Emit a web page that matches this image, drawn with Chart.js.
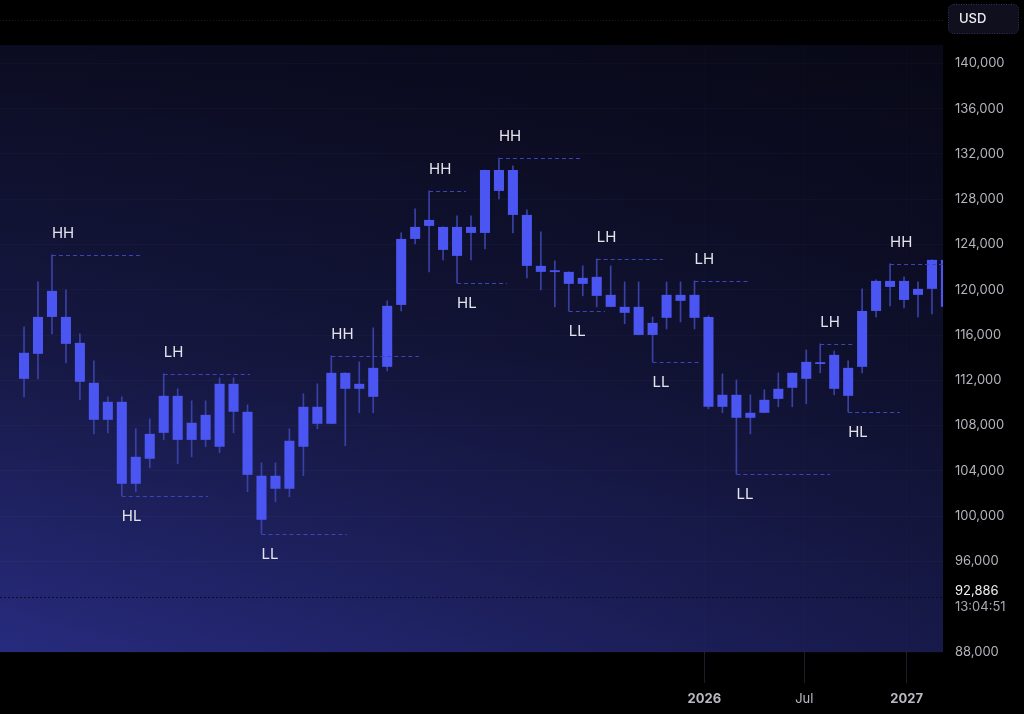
<!DOCTYPE html>
<html>
<head>
<meta charset="utf-8">
<title>Candles</title>
<script src="https://cdn.jsdelivr.net/npm/chart.js@4.4.1/dist/chart.umd.min.js"></script>
<style>
  body { margin: 0; background: #000; }
  #wrap { width: 1024px; height: 714px; position: relative; }
</style>
</head>
<body>
<div id="wrap"><canvas id="grafico"></canvas></div>
<script>
// candles (one per bar, all same colour)
const opens  = [112130,114340,117600,117600,115310,111780,108510,110100,102860,105070,
                107360,110630,106740,106740,106130,111690,109220,103570,102420,102420,
                106130,109660,108160,112660,111250,110540,113190,118660,124490,125640,
                125550,122990,125020,125020,130580,130580,126610,122110,121720,121580,
                120520,121140,119550,118490,118490,116010,117520,119550,117520,117600,
                109660,110720,108690,109130,110360,111340,112130,113600,114250,110630,
                113190,118130,120780,119100,120080,120080,122640];
const closes = [114430,117600,119900,115220,111870,108510,110100,102860,105240,107270,
                110630,106740,108250,108950,111690,109220,103650,99680,103570,106660,
                109660,108160,112660,111250,111690,113100,118580,124490,125550,126170,
                123520,125550,125550,130580,128730,126610,122110,121580,121560,120520,
                121050,119460,118490,117960,116010,117070,119550,119020,119550,109660,
                110720,108690,109130,110280,111250,112660,113630,113440,111250,113100,
                118130,120780,120250,120780,119550,122640,118490];
const highs  = [116720,120690,123080,119990,116100,113720,110540,110540,107720,108600,
                112570,111250,110190,110190,112220,112220,109830,104710,104710,107720,
                110810,111690,114160,112660,113630,116630,119020,125020,127140,128730,
                125550,126520,126520,130580,131640,130940,127050,125110,122550,121580,
                122110,122730,122110,120690,120690,117600,120690,120690,120780,117690,
                112570,112040,110720,111160,112660,112660,114690,115220,114600,113720,
                120080,120870,122280,121140,120690,122640,122800];
const lows   = [110540,112130,116100,113540,110280,107270,107360,101800,102150,104270,
                106740,104630,105240,106130,105600,107360,102150,98450,101270,101710,
                103570,107720,108160,106220,109130,109130,112840,118130,124050,121580,
                122640,120610,122640,123610,128020,125020,121050,119990,118490,118130,
                119460,118490,118490,116990,116010,113630,116540,117160,116540,109480,
                109130,103740,107270,109130,109660,109660,109920,112660,110720,109210,
                112660,117600,118580,118400,117600,117870,118200];

// axis ticks
const tickPositions = [49.7, 56.86, 64.19];   // candle index units
const tickLabels = ['2026', 'Jul', '2027'];
const tickBold = [true, false, true];
const yTicks = [88000, 96000, 100000, 104000, 108000, 112000, 116000, 120000,
                124000, 128000, 132000, 136000, 140000];

// market structure swings
const swingLabels = ['HH','HL','LH','LL','HH','HH','HL','HH','LL','LH','LL','LH','LL','LH','HL','HH'];
const swingCandle = [3, 8, 11, 18, 23, 30, 32, 35, 40, 42, 46, 49, 52, 58, 60, 63];
const swingEnd    = [9.3, 14.17, 17.18, 24.12, 29.27, 32.64, 35.57, 40.8, 42.59, 46.74, 49.32, 52.97, 58.7, 60.41, 63.71, 66.79];

const precoAtual = 92886;
const horaAtual = '13:04:51';
const moeda = 'USD';

const corpos = opens.map(function (o, i) { return { x: i + 1, y: [o, closes[i]] }; });
const pavios = highs.map(function (h, i) { return { x: i + 1, y: [lows[i], h] }; });

const fundo = {
    id: 'fundo',
    beforeDraw(chart) {
        const ctx = chart.ctx, a = chart.chartArea;
        ctx.save();
        ctx.fillStyle = '#000';
        ctx.fillRect(0, 0, chart.width, chart.height);
        let g = ctx.createLinearGradient(0, a.top, 0, a.bottom);
        g.addColorStop(0, '#0b0c21');
        g.addColorStop(0.5, '#161843');
        g.addColorStop(1, '#272b7e');
        ctx.fillStyle = g;
        ctx.fillRect(a.left, a.top, a.right - a.left, a.bottom - a.top);
        let h = ctx.createLinearGradient(a.left, 0, a.right, 0);
        h.addColorStop(0, 'rgba(4,4,10,0)');
        h.addColorStop(1, 'rgba(4,4,10,0.45)');
        ctx.fillStyle = h;
        ctx.fillRect(a.left, a.top, a.right - a.left, a.bottom - a.top);

        // faint top line
        ctx.strokeStyle = 'rgba(255,255,255,0.1)';
        ctx.setLineDash([1, 2]);
        ctx.beginPath();
        ctx.moveTo(0, 20.5);
        ctx.lineTo(a.right, 20.5);
        ctx.stroke();

        // currency box
        ctx.setLineDash([1, 1.5]);
        ctx.fillStyle = '#0f0f1d';
        ctx.strokeStyle = '#34356a';
        ctx.beginPath();
        ctx.roundRect(948.5, 4.5, 70, 29, 5);
        ctx.fill();
        ctx.stroke();
        ctx.setLineDash([]);
        ctx.fillStyle = '#ececf2';
        ctx.font = '500 13px Inter';
        ctx.textBaseline = 'middle';
        ctx.fillText(moeda, 959, 19);
        ctx.restore();
    },
    beforeDatasetsDraw(chart) {
        const ctx = chart.ctx, a = chart.chartArea;
        const y = Math.round(chart.scales.y.getPixelForValue(precoAtual)) + 0.5;
        ctx.save();
        ctx.strokeStyle = 'rgba(6,6,20,0.75)';
        ctx.setLineDash([2, 2]);
        ctx.beginPath();
        ctx.moveTo(a.left, y);
        ctx.lineTo(a.right, y);
        ctx.stroke();
        ctx.restore();
    },
    afterDatasetsDraw(chart) {
        const ctx = chart.ctx, xs = chart.scales.x, ys = chart.scales.y;
        ctx.save();
        ctx.font = '15px Inter';
        ctx.textBaseline = 'middle';
        ctx.textAlign = 'left';
        for (let i = 0; i < swingLabels.length; i++) {
            const c = swingCandle[i] - 1;
            const topo = swingLabels[i][1] === 'H';
            const nivel = topo ? highs[c] : lows[c];
            const x0 = xs.getPixelForValue(swingCandle[i]);
            const x1 = xs.getPixelForValue(swingEnd[i]);
            const y = Math.round(ys.getPixelForValue(nivel)) + 0.5;
            ctx.strokeStyle = '#3c44bb';
            ctx.lineWidth = 1;
            ctx.setLineDash([4, 3]);
            ctx.beginPath();
            ctx.moveTo(x0, y);
            ctx.lineTo(x1, y);
            ctx.stroke();
            ctx.fillStyle = '#e4e4ec';
            ctx.fillText(swingLabels[i], x0, topo ? y - 22 : y + 20);
        }
        ctx.restore();
    },
    afterDraw(chart) {
        const ctx = chart.ctx;
        const y = chart.scales.y.getPixelForValue(precoAtual);
        ctx.save();
        ctx.textBaseline = 'middle';
        ctx.font = '13px Inter';
        ctx.fillStyle = '#f0f0f5';
        ctx.fillText(precoAtual.toLocaleString('en-US'), 955, y - 6);
        ctx.fillStyle = '#a8a8b2';
        ctx.fillText(horaAtual, 955, y + 10);
        ctx.restore();
    }
};

const config = {
    type: 'bar',
    data: {
        datasets: [
            {
                label: 'corpo',
                data: corpos,
                grouped: false,
                backgroundColor: '#4b56f2',
                borderWidth: 0,
                barPercentage: 0.9,
                categoryPercentage: 0.8
            },
            {
                label: 'pavio',
                data: pavios,
                grouped: false,
                backgroundColor: '#3a41a6',
                borderWidth: 0,
                barThickness: 1
            }
        ]
    },
    options: {
        responsive: true,
        maintainAspectRatio: false,
        animation: false,
        layout: { padding: { top: 45, left: 0, right: 0, bottom: 0 } },
        plugins: { legend: { display: false }, tooltip: { enabled: false } },
        scales: {
            x: {
                type: 'linear',
                min: -0.72,
                max: 66.79,
                offset: false,
                border: { display: false },
                grid: { offset: false, color: 'rgba(255,255,255,0.012)', tickColor: '#1d1d2b', tickLength: 31 },
                ticks: {
                    padding: 8,
                    color: '#b8b8c2',
                    autoSkip: false,
                    maxRotation: 0,
                    font: function (ctx) {
                        return { family: 'Inter', size: 13, weight: tickBold[ctx.index] ? 'bold' : 'normal' };
                    },
                    callback: function (v, i) { return tickLabels[i]; }
                },
                afterBuildTicks: function (s) { s.ticks = tickPositions.map(function (v) { return { value: v }; }); },
                afterFit: function (s) { s.height = 62; }
            },
            y: {
                position: 'right',
                min: 88000,
                max: 141620,
                border: { display: false },
                grid: { color: 'rgba(255,255,255,0.025)', drawTicks: false },
                ticks: {
                    padding: 12,
                    color: '#b4b4bd',
                    autoSkip: false,
                    font: { family: 'Inter', size: 13 },
                    callback: function (v) { return v.toLocaleString('en-US'); }
                },
                afterBuildTicks: function (s) { s.ticks = yTicks.map(function (v) { return { value: v }; }); },
                afterFit: function (s) { s.width = 81; }
            }
        }
    },
    plugins: [fundo]
};

let grafico = new Chart(document.getElementById('grafico'), config);
</script>
</body>
</html>
